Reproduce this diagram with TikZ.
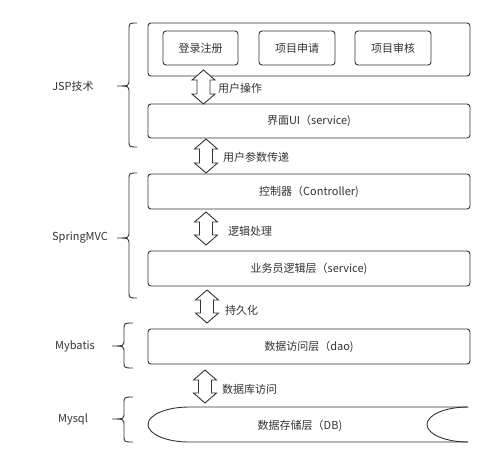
\documentclass[tikz,border=0pt]{standalone}
\usepackage{fontspec}
\setmainfont{Noto Sans CJK SC}
\definecolor{ln}{HTML}{333333}
\definecolor{tx}{HTML}{333333}
\newcommand\mybrace[6]{% xr xv xt ytop ymid ybot
  \draw[brace] (#1,#4) .. controls (#2,#4) .. (#2,{#4+7}) -- (#2,{#5-7})
    .. controls (#2,#5) .. (#3,#5) .. controls (#2,#5) .. (#2,{#5+7})
    -- (#2,{#6-7}) .. controls (#2,#6) .. (#1,#6);}
\newcommand\mydbl[3]{% x ytop ybot
  \draw[dblarr] (#1,#2) -- ({#1+11.5},{#2+10}) -- ({#1+6.5},{#2+10}) -- ({#1+6.5},{#3-10})
    -- ({#1+11.5},{#3-10}) -- (#1,#3) -- ({#1-11.5},{#3-10}) -- ({#1-6.5},{#3-10})
    -- ({#1-6.5},{#2+10}) -- ({#1-11.5},{#2+10}) -- cycle;}
\begin{document}
\begin{tikzpicture}[x=1pt,y=-1pt,
  every node/.style={font=\fontsize{11}{13}\selectfont, text=tx},
  box/.style={draw=ln, line width=0.9pt, rounded corners=3pt, fill=white, inner sep=0pt},
  brace/.style={draw=ln, line width=0.9pt},
  dblarr/.style={draw=ln, line width=0.9pt, fill=white, line join=miter},
  lbl/.style={anchor=west, inner sep=0pt}]
\useasboundingbox (0,0) rectangle (492,464);
% top group
\node[box, minimum width=322pt, minimum height=53pt] (top) at (309,49.5) {};
\node[box, minimum width=75pt, minimum height=34pt] (login) at (200.5,48) {登录注册};
\node[box, minimum width=76pt, minimum height=34pt] (apply) at (297,48) {项目申请};
\node[box, minimum width=76pt, minimum height=34pt] (audit) at (393,48) {项目审核};
\node[box, minimum width=322pt, minimum height=34pt] (ui) at (309,121) {界面UI（service)};
\node[box, minimum width=322pt, minimum height=35pt] (ctrl) at (309,191.5) {控制器（Controller)};
\node[box, minimum width=322pt, minimum height=35pt] (svc) at (309,268.5) {业务员逻辑层（service)};
\node[box, minimum width=322pt, minimum height=35pt] (dao) at (309,346.5) {数据访问层（dao)};
% DB cylinder
\draw[ln, line width=0.9pt] (468,407) -- (189,407) arc[start angle=270, end angle=90, x radius=41, y radius=17.5] -- (468,442);
\draw[ln, line width=0.9pt] (468,407) arc[start angle=270, end angle=90, x radius=41, y radius=17.5];
\node (db) at (300,425.5) {数据存储层（DB)};
% double arrows
\mydbl{203.5}{70}{104}
\node[lbl] (l1) at (218,88) {用户操作};
\mydbl{206}{139}{173}
\node[lbl] (l2) at (223,157) {用户参数传递};
\mydbl{206}{212}{245}
\node[lbl] (l3) at (228,231) {逻辑处理};
\mydbl{207}{290}{323}
\node[lbl] (l4) at (225,310) {持久化};
\mydbl{205}{370}{403}
\node[lbl] (l5) at (222,389) {数据库访问};
% braces
\mybrace{137}{129}{117}{23}{86}{147}
\node (jsp) at (73,86) {JSP技术};
\mybrace{137}{129}{117}{173}{238}{298}
\node (mvc) at (80,238) {SpringMVC};
\mybrace{133}{124}{112}{323}{346}{368}
\node (mb) at (75,346) {Mybatis};
\mybrace{133}{124}{112}{397}{419}{442}
\node (my) at (73,419) {Mysql};
\end{tikzpicture}
\end{document}
